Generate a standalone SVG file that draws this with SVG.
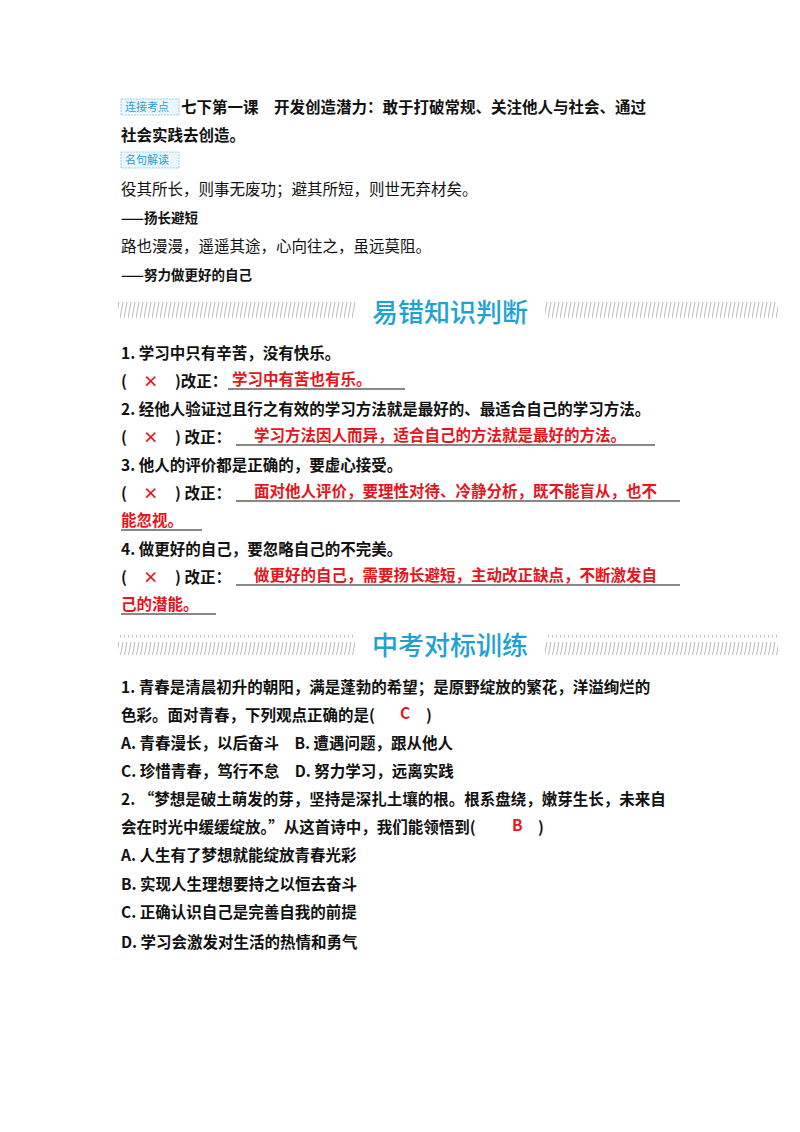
<svg xmlns="http://www.w3.org/2000/svg" width="800" height="1132" viewBox="0 0 800 1132">
<style>
text{font-family:"Noto Sans CJK SC","Liberation Sans",sans-serif;font-size:15.5px;fill:#111}
.b{font-weight:bold}
.r{fill:#e8141b;font-weight:bold}
.h{fill:#1ea2d4;font-size:26px;font-weight:500}
.tag{font-size:11px;fill:#2a9fd0}
.ul{stroke:#111;stroke-width:1}
</style>
<defs>
<pattern id="hatch" width="4" height="20" patternUnits="userSpaceOnUse">
<line x1="0" y1="18" x2="3" y2="2" stroke="#aaa" stroke-width="0.8"/>
</pattern>
</defs>
<rect width="800" height="1132" fill="#fff"/>
<g id="tag1"><rect x="121" y="99" width="58" height="16" fill="#eaf6fc" stroke="#7cc8e8" stroke-width="0.8" stroke-dasharray="2,1"/><text x="125" y="111" class="tag">连接考点</text></g>
<text x="181" y="113" class="b">七下第一课　开发创造潜力：敢于打破常规、关注他人与社会、通过</text>
<text x="121" y="141" class="b">社会实践去创造。</text>
<g id="tag2"><rect x="121" y="152" width="58" height="16" fill="#eaf6fc" stroke="#7cc8e8" stroke-width="0.8" stroke-dasharray="2,1"/><text x="125" y="164" class="tag">名句解读</text></g>
<text x="121" y="195">役其所长，则事无废功；避其所短，则世无弃材矣。</text>
<text x="121" y="223" class="b" style="font-size:13.5px">——扬长避短</text>
<text x="121" y="252">路也漫漫，遥遥其途，心向往之，虽远莫阻。</text>
<text x="121" y="280" class="b" style="font-size:13.5px">——努力做更好的自己</text>
<g id="h1"><rect x="118" y="302" width="237" height="20" fill="url(#hatch)"/><rect x="545" y="302" width="233" height="20" fill="url(#hatch)"/><text x="372" y="322" class="h">易错知识判断</text></g>
<text x="121" y="359" class="b">1. 学习中只有辛苦，没有快乐。</text>
<text x="121" y="387" class="b">(</text><text x="143" y="387" class="r">×</text><text x="175" y="387" class="b">)改正：</text>
<text x="232" y="385" class="r">学习中有苦也有乐。</text><line x1="228" y1="389" x2="405" y2="389" class="ul"/>
<text x="121" y="415" class="b">2. 经他人验证过且行之有效的学习方法就是最好的、最适合自己的学习方法。</text>
<text x="121" y="443" class="b">(</text><text x="143" y="443" class="r">×</text><text x="175" y="443" class="b">) 改正：</text>
<text x="254" y="441" class="r">学习方法因人而异，适合自己的方法就是最好的方法。</text><line x1="236" y1="445" x2="655" y2="445" class="ul"/>
<text x="121" y="471" class="b">3. 他人的评价都是正确的，要虚心接受。</text>
<text x="121" y="499" class="b">(</text><text x="143" y="499" class="r">×</text><text x="175" y="499" class="b">) 改正：</text>
<text x="254" y="497" class="r">面对他人评价，要理性对待、冷静分析，既不能盲从，也不</text><line x1="236" y1="501" x2="680" y2="501" class="ul"/>
<text x="121" y="526" class="r">能忽视。</text><line x1="121" y1="530" x2="202" y2="530" class="ul"/>
<text x="121" y="555" class="b">4. 做更好的自己，要忽略自己的不完美。</text>
<text x="121" y="583" class="b">(</text><text x="143" y="583" class="r">×</text><text x="175" y="583" class="b">) 改正：</text>
<text x="254" y="581" class="r">做更好的自己，需要扬长避短，主动改正缺点，不断激发自</text><line x1="236" y1="585" x2="680" y2="585" class="ul"/>
<text x="121" y="610" class="r">己的潜能。</text><line x1="121" y1="614" x2="216" y2="614" class="ul"/>
<g id="h2"><rect x="118" y="635" width="237" height="20" fill="url(#hatch)"/><rect x="545" y="635" width="233" height="20" fill="url(#hatch)"/><text x="372" y="655" class="h">中考对标训练</text></g>
<text x="121" y="693" class="b">1. 青春是清晨初升的朝阳，满是蓬勃的希望；是原野绽放的繁花，洋溢绚烂的</text>
<text x="121" y="721" class="b">色彩。面对青春，下列观点正确的是(</text><text x="400" y="719" class="r">C</text><text x="426" y="721" class="b">)</text>
<text x="121" y="749" class="b">A. 青春漫长，以后奋斗　B. 遭遇问题，跟从他人</text>
<text x="121" y="777" class="b">C. 珍惜青春，笃行不怠　D. 努力学习，远离实践</text>
<text x="121" y="805" class="b">2. “梦想是破土萌发的芽，坚持是深扎土壤的根。根系盘绕，嫩芽生长，未来自</text>
<text x="121" y="833" class="b">会在时光中缓缓绽放。”从这首诗中，我们能领悟到(</text><text x="512" y="831" class="r">B</text><text x="538" y="833" class="b">)</text>
<text x="121" y="861" class="b">A. 人生有了梦想就能绽放青春光彩</text>
<text x="121" y="890" class="b">B. 实现人生理想要持之以恒去奋斗</text>
<text x="121" y="918" class="b">C. 正确认识自己是完善自我的前提</text>
<text x="121" y="948" class="b">D. 学习会激发对生活的热情和勇气</text>
</svg>
